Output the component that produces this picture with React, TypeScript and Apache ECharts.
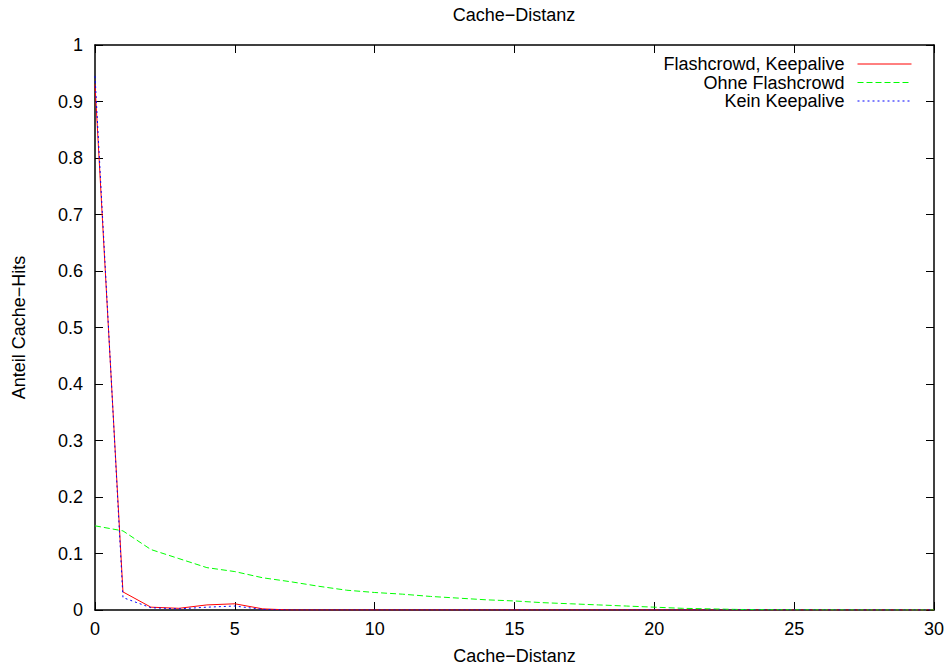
import React, { useEffect, useRef } from "react";
import * as echarts from "echarts";

const distances = [
  0, 1, 2, 3, 4, 5, 6, 7, 8, 9, 10, 11, 12, 13, 14, 15, 16, 17, 18, 19, 20,
  21, 22, 23, 24, 25, 26, 27, 28, 29, 30,
];

const flashcrowdKeepalive = [
  0.93, 0.032, 0.005, 0.003, 0.009, 0.011, 0.002, 0, 0, 0, 0, 0, 0, 0, 0, 0,
  0, 0, 0, 0, 0, 0, 0, 0, 0, 0, 0, 0, 0, 0, 0,
];

const ohneFlashcrowd = [
  0.149, 0.14, 0.107, 0.091, 0.075, 0.068, 0.057, 0.05, 0.042, 0.035, 0.031,
  0.028, 0.024, 0.021, 0.018, 0.016, 0.013, 0.011, 0.009, 0.007, 0.005, 0.003,
  0.002, 0.001, 0.0005, 0.0003, 0.0002, 0.0001, 0, 0, 0,
];

const keinKeepalive = [
  0.945, 0.022, 0.004, 0.002, 0.005, 0.007, 0.001, 0, 0, 0, 0, 0, 0, 0, 0, 0,
  0, 0, 0, 0, 0, 0, 0, 0, 0, 0, 0, 0, 0, 0, 0,
];

const seriesNames = ["Flashcrowd, Keepalive", "Ohne Flashcrowd", "Kein Keepalive"];
const titleText = "Cache\u2212Distanz";
const xAxisName = "Cache\u2212Distanz";
const yAxisName = "Anteil Cache\u2212Hits";

const FONT = "'Liberation Sans', Arial, Helvetica, sans-serif";
const FS = 18;

const toPairs = (vals: number[]) => distances.map((d, i) => [d, vals[i]]);

export default function App() {
  const ref = useRef<HTMLDivElement>(null);
  useEffect(() => {
    const chart = echarts.init(ref.current!, null, { renderer: "svg" });
    const axisLine = { show: true, onZero: false, lineStyle: { color: "#000", width: 1.5 } };
    const axisTick = { show: true, inside: true, length: 8, lineStyle: { color: "#000", width: 1 } };
    const label = { color: "#000", fontSize: FS, fontFamily: FONT };
    chart.setOption({
      animation: false,
      backgroundColor: "#fff",
      grid: {
        left: 95,
        right: 15,
        top: 45,
        bottom: 56,
        containLabel: false,
        outerBoundsMode: "none",
      },
      graphic: [
        {
          type: "text",
          x: 514,
          y: 15,
          style: {
            text: titleText,
            align: "center",
            verticalAlign: "middle",
            textAlign: "center",
            textVerticalAlign: "middle",
            fontSize: FS,
            fontFamily: FONT,
            fill: "#000",
          },
        },
      ],
      legend: {
        orient: "vertical",
        right: 37,
        top: 55,
        align: "right",
        padding: 0,
        itemWidth: 54,
        itemHeight: 18,
        itemGap: 0.5,
        itemStyle: { opacity: 0, borderWidth: 0 },
        lineStyle: { width: 1 },
        textStyle: {
          color: "#000",
          fontSize: FS,
          fontFamily: FONT,
          lineHeight: 18,
          padding: [0, 8, 0, 0],
        },
        data: seriesNames,
      },
      xAxis: [
        {
          type: "value",
          position: "bottom",
          min: 0,
          max: 30,
          interval: 5,
          axisLine,
          axisTick,
          axisLabel: { ...label, margin: 10 },
          splitLine: { show: false },
          name: xAxisName,
          nameLocation: "middle",
          nameGap: 37,
          nameTextStyle: { ...label },
        },
        {
          type: "value",
          position: "top",
          min: 0,
          max: 30,
          interval: 5,
          axisLine,
          axisTick,
          axisLabel: { show: false },
          splitLine: { show: false },
        },
      ],
      yAxis: [
        {
          type: "value",
          position: "left",
          min: 0,
          max: 1,
          interval: 0.1,
          axisLine,
          axisTick,
          axisLabel: { ...label, margin: 12 },
          splitLine: { show: false },
          name: yAxisName,
          nameLocation: "middle",
          nameGap: 67,
          nameRotate: 90,
          nameTextStyle: { ...label },
        },
        {
          type: "value",
          position: "right",
          min: 0,
          max: 1,
          interval: 0.1,
          axisLine,
          axisTick,
          axisLabel: { show: false },
          splitLine: { show: false },
        },
      ],
      series: [
        {
          name: seriesNames[0],
          type: "line",
          xAxisIndex: 0,
          yAxisIndex: 0,
          data: toPairs(flashcrowdKeepalive),
          showSymbol: false,
          symbol: "none",
          lineStyle: { color: "#ff0000", width: 1 },
          itemStyle: { color: "#ff0000", opacity: 0 },
        },
        {
          name: seriesNames[1],
          type: "line",
          xAxisIndex: 0,
          yAxisIndex: 0,
          data: toPairs(ohneFlashcrowd),
          showSymbol: false,
          symbol: "none",
          lineStyle: { color: "#00ff00", width: 1, type: [6, 3] },
          itemStyle: { color: "#00ff00", opacity: 0 },
        },
        {
          name: seriesNames[2],
          type: "line",
          xAxisIndex: 0,
          yAxisIndex: 0,
          data: toPairs(keinKeepalive),
          showSymbol: false,
          symbol: "none",
          lineStyle: { color: "#0000ff", width: 1, type: [2, 3] },
          itemStyle: { color: "#0000ff", opacity: 0 },
        },
      ],
    });
    return () => chart.dispose();
  }, []);
  return (
    <div
      ref={ref}
      style={{ position: "absolute", left: 0, top: 0, width: 949, height: 666 }}
    />
  );
}
